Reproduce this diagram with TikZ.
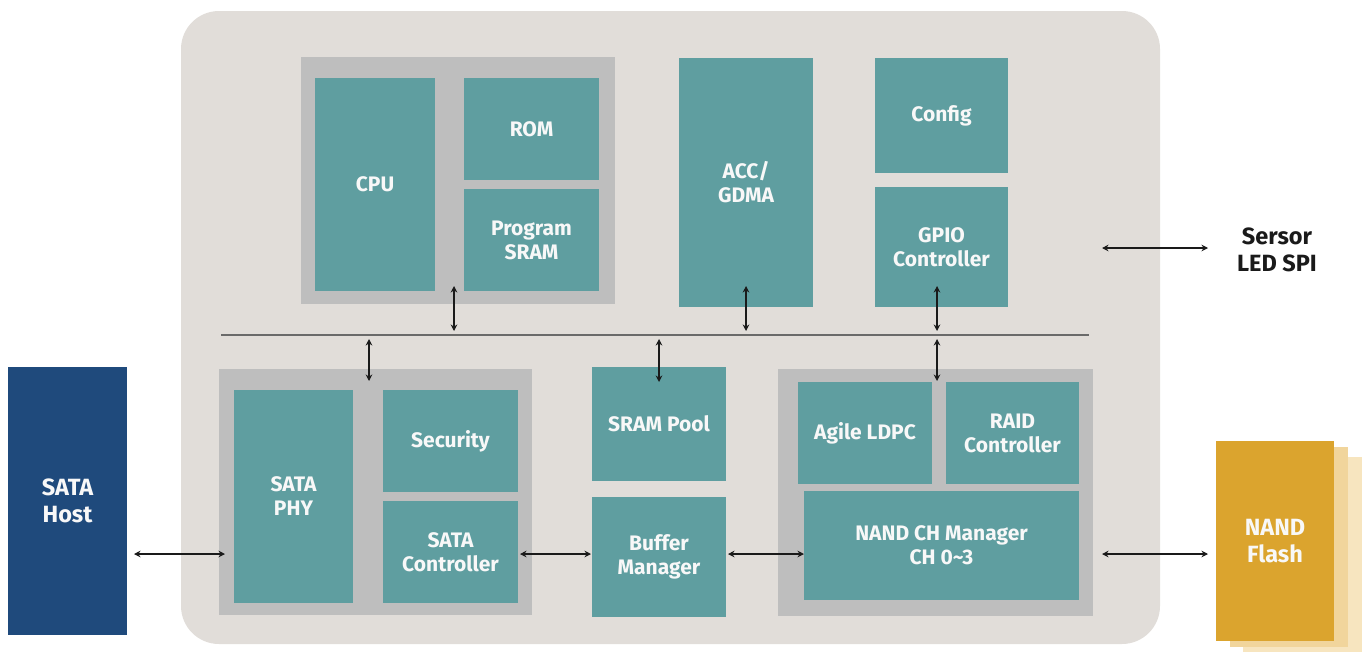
\documentclass[tikz,border=0pt]{standalone}
\usepackage{fontspec}
\setmainfont{Fira Sans}
\usetikzlibrary{calc,arrows.meta}
\definecolor{outerbg}{HTML}{E1DDD9}
\definecolor{grpgray}{HTML}{BEBEBE}
\definecolor{teal}{HTML}{5F9EA0}
\definecolor{hostblue}{HTML}{1F4A7C}
\definecolor{gold}{HTML}{DBA42E}
\definecolor{goldB}{HTML}{F1D59C}
\definecolor{goldC}{HTML}{F7E5BF}
\definecolor{txtw}{HTML}{F8F8F8}
\definecolor{arrc}{HTML}{1A1A1A}
\definecolor{busc}{HTML}{6A6A6A}
\tikzset{
  blk/.style={rectangle, inner sep=0pt, outer sep=0pt, align=center,
    font=\fontsize{21}{24}\selectfont\bfseries, text=txtw},
  bigtxt/.style={font=\fontsize{23.5}{27}\selectfont\bfseries},
  tealbox/.style={blk, fill=teal},
  grpbox/.style={rectangle, inner sep=0pt, outer sep=0pt, fill=grpgray},
  arr/.style={{Stealth[length=6.5pt,width=6.5pt]}-{Stealth[length=6.5pt,width=6.5pt]}, line width=1.5pt, draw=arrc},
  busline/.style={line width=1.6pt, draw=busc},
}
\begin{document}
\begin{tikzpicture}[x=1pt,y=-1pt]
\useasboundingbox (0,0) rectangle (1368,651);
% outer chip
\node[rectangle, fill=outerbg, rounded corners=38pt, minimum width=979, minimum height=633, inner sep=0pt] (outer) at (670.5,327.5) {};
% top-left group
\node[grpbox, minimum width=314, minimum height=247] (g1) at (458,180.5) {};
\node[tealbox, minimum width=120, minimum height=213] (cpu) at (375,184.5) {CPU};
\node[tealbox, minimum width=135, minimum height=102] (rom) at (531.5,129) {ROM};
\node[tealbox, minimum width=135, minimum height=102] (psram) at (531.5,240) {Program\\SRAM};
% ACC
\node[tealbox, minimum width=134, minimum height=249] (acc) at (746,182.5) {ACC/\\GDMA};
\node[tealbox, minimum width=133, minimum height=115] (config) at (941.5,115.5) {Config};
\node[tealbox, minimum width=133, minimum height=120] (gpio) at (941.5,247) {GPIO\\Controller};
% bus
\coordinate (busL) at (221,335);
\coordinate (busR) at (1089,335);
\coordinate (bus) at (655,335);
\draw[busline] (busL) -- (busR);
% lower-left group
\node[grpbox, minimum width=313, minimum height=246] (g2) at (375.5,492) {};
\node[tealbox, minimum width=119, minimum height=213] (phy) at (293.5,496.5) {SATA\\PHY};
\node[tealbox, minimum width=135, minimum height=102] (sec) at (450.5,441) {Security};
\node[tealbox, minimum width=135, minimum height=102] (satac) at (450.5,552) {SATA\\Controller};
% middle
\node[tealbox, minimum width=134, minimum height=114] (sram) at (659,424) {SRAM Pool};
\node[tealbox, minimum width=134, minimum height=120] (buf) at (659,557) {Buffer\\Manager};
% lower-right group
\node[grpbox, minimum width=315, minimum height=247] (g3) at (935.5,492.5) {};
\node[tealbox, minimum width=134, minimum height=102] (ldpc) at (865,433) {Agile LDPC};
\node[tealbox, minimum width=133, minimum height=102] (raid) at (1012.5,433) {RAID\\Controller};
\node[tealbox, minimum width=275, minimum height=109] (nandch) at (941.5,545.5) {NAND CH Manager\\CH 0\textasciitilde3};
% host
\node[blk, bigtxt, fill=hostblue, minimum width=119, minimum height=268] (host) at (67.5,501) {SATA\\Host};
% NAND flash stack
\node[rectangle, fill=goldC, minimum width=119, minimum height=200, inner sep=0pt] (flashC) at (1302.5,557) {};
\node[rectangle, fill=goldB, minimum width=118, minimum height=200, inner sep=0pt] (flashB) at (1289,547) {};
\node[blk, bigtxt, fill=gold, minimum width=118, minimum height=200] (flash) at (1275,541) {NAND\\Flash};
% sensor text
\node[align=center, inner sep=0pt, bigtxt, text=arrc] (sensor) at (1277,250) {Sersor\\LED SPI};
\coordinate (sL) at (1102,248);
\coordinate (sR) at (1208,248);
\coordinate (yA) at (0,554);
% arrows
\draw[arr] ($(g1.south)+(-4,-18)$) -- ($(g1.south |- bus)+(-4,-4)$);
\draw[arr] ($(acc.south)+(0,-21)$) -- ($(acc.south |- bus)+(0,-4)$);
\draw[arr] ($(gpio.south)+(-4.5,-21)$) -- ($(gpio.south |- bus)+(-4.5,-4)$);
\draw[arr] ($(g2.north |- bus)+(-6.5,4)$) -- ($(g2.north)+(-6.5,12)$);
\draw[arr] ($(sram.north |- bus)+(0,4)$) -- ($(sram.north)+(0,15)$);
\draw[arr] ($(g3.north |- bus)+(1.5,4)$) -- ($(g3.north)+(1.5,12)$);
\draw[arr] ($(host.east |- yA)+(7,0)$) -- ($(phy.west |- yA)+(-9,0)$);
\draw[arr] ($(satac.east |- yA)+(2,0)$) -- ($(buf.west |- yA)+(-1,0)$);
\draw[arr] ($(buf.east |- yA)+(2,0)$) -- ($(nandch.west |- yA)+(0,0)$);
\draw[arr] ($(g3.east |- yA)+(9,0)$) -- ($(flash.west |- yA)+(-8,0)$);
\draw[arr] (sL) -- (sR);
\end{tikzpicture}
\end{document}
